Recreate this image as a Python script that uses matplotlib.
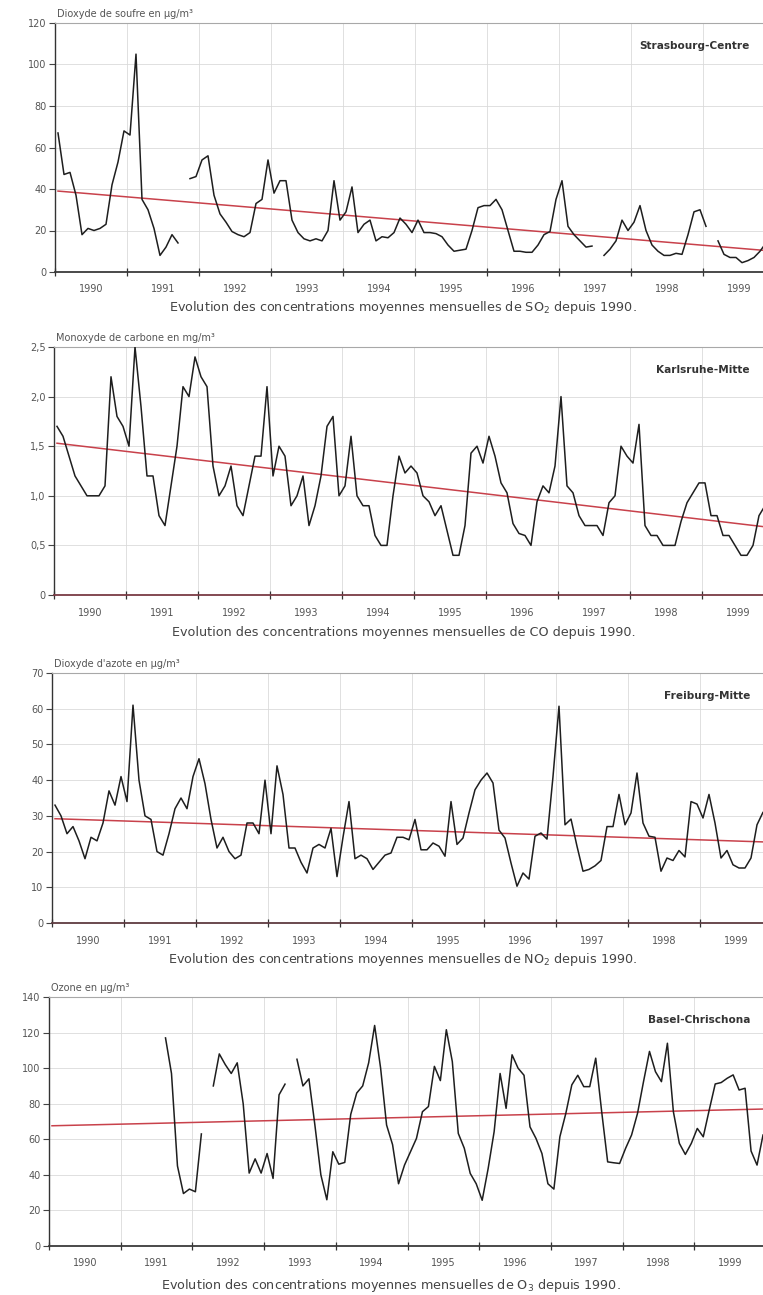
import numpy as np
import matplotlib.pyplot as plt

W, H = 763, 1295

years = [str(y) for y in range(1990, 2000)]
months = np.arange(120)

# monthly means, Jan 1990 .. Dec 1999 (None = no measurement)
so2 = [67, 47, 48, 37, 18, 21, 20, 21, 23, 42,
       53, 68, 66, 105, 35, 30, 21, 8, 12, 18,
       14, None, 45, 46, 54, 56, 37, 28, 24, 19.5,
       18, 17, 19, 33, 35, 54, 38, 44, 44, 25,
       19, 16, 15, 16, 15, 20, 44, 25, 29, 41,
       19, 23, 25, 15, 17, 16.5, 19, 26, 23, 19,
       25, 19, 19, 18.5, 17, 13, 10, 10.5, 11, 20,
       31, 32, 32, 35, 30, 20, 10, 10, 9.5, 9.5,
       13, 18, 19.5, 35, 44, 22, 18, 15, 12, 12.5,
       None, 8, 11, 15, 25, 20, 24, 32, 20, 13,
       10, 8, 8, 9, 8.5, 18, 29, 30, 22, None,
       15, 8.5, 7, 7, 4.5, 5.5, 7, 10, 14, 16]

co = [1.7, 1.6, 1.4, 1.2, 1.1, 1.0, 1.0, 1.0, 1.1, 2.2,
      1.8, 1.7, 1.5, 2.5, 1.9, 1.2, 1.2, 0.8, 0.7, 1.1,
      1.5, 2.1, 2.0, 2.4, 2.2, 2.1, 1.3, 1.0, 1.1, 1.3,
      0.9, 0.8, 1.1, 1.4, 1.4, 2.1, 1.2, 1.5, 1.4, 0.9,
      1.0, 1.2, 0.7, 0.9, 1.2, 1.7, 1.8, 1.0, 1.1, 1.6,
      1.0, 0.9, 0.9, 0.6, 0.5, 0.5, 1.0, 1.4, 1.23, 1.3,
      1.23, 1.0, 0.94, 0.8, 0.9, 0.65, 0.4, 0.4, 0.7, 1.43,
      1.5, 1.33, 1.6, 1.4, 1.13, 1.03, 0.72, 0.62, 0.6, 0.5,
      0.94, 1.1, 1.03, 1.3, 2.0, 1.1, 1.03, 0.8, 0.7, 0.7,
      0.7, 0.6, 0.93, 1.0, 1.5, 1.4, 1.33, 1.72, 0.7, 0.6,
      0.6, 0.5, 0.5, 0.5, 0.74, 0.93, 1.03, 1.13, 1.13, 0.8,
      0.8, 0.6, 0.6, 0.5, 0.4, 0.4, 0.5, 0.8, 0.9, 0.95]

no2 = [33, 30, 25, 27, 23, 18, 24, 23, 28, 37,
       33, 41, 34, 61, 40, 30, 29, 20, 19, 25,
       32, 35, 32, 41, 46, 39, 29, 21, 24, 20,
       18, 19, 28, 28, 25, 40, 25, 44, 36, 21,
       21, 17, 14, 21, 22, 21, 26.5, 13, 24, 34,
       18, 19, 18, 15, 17, 19, 19.6, 24, 24, 23.3,
       29, 20.5, 20.5, 22.4, 21.5, 18.7, 34, 22, 23.8, 30.8,
       37.3, 40, 42, 39.2, 26, 23.8, 16.8, 10.3, 14, 12.3,
       24.3, 25.2, 23.5, 41, 60.7, 27.5, 29.1, 21.5, 14.5, 15,
       16, 17.5, 27, 27, 36, 27.5, 30.8, 42, 28, 24.3,
       24, 14.5, 18.2, 17.5, 20.3, 18.5, 34, 33.3, 29.4, 36,
       28, 18.2, 20.3, 16.3, 15.4, 15.4, 18.2, 27.5, 31, 32]

o3 = [None] * 19 + [
       117, 97, 45, 29.5, 32, 30.5, 63, None, 90, 108,
       102, 97, 103, 80, 41, 49, 41, 52, 38, 85,
       91, None, 105, 90, 94, 68, 40, 26, 53, 46,
       47, 74, 86, 90, 103, 124, 100, 68, 57, 35,
       45.5, 53, 60.5, 75.5, 78.4, 101, 93, 121.6, 103.7, 63.3,
       55, 40.8, 35, 25.7, 43.6, 64.3, 97, 77.4, 107.5, 100,
       96, 67, 60.5, 52, 35, 32, 61.4, 74.6, 90.6, 96,
       89.6, 89.6, 105.6, 75.5, 47.3, 46.8, 46.4, 54.9, 62.4, 74.6,
       92.4, 109.4, 98, 92.4, 114, 75.5, 57.7, 51.5, 57.7, 66.1,
       61.4, 76.5, 91.1, 91.9, 94.3, 96.2, 87.7, 88.7, 53.4, 45.5,
       62.4]

# linear trend, value at first and last month
so2_trend = [39.0, 10.1]
co_trend = [1.53, 0.68]
no2_trend = [29.2, 22.65]
o3_trend = [67.6, 77.0]

so2_ticks = [0, 20, 40, 60, 80, 100, 120]
co_ticks = [0, 0.5, 1.0, 1.5, 2.0, 2.5]
co_ticklabels = ['0', '0,5', '1,0', '1,5', '2,0', '2,5']
no2_ticks = [0, 10, 20, 30, 40, 50, 60, 70]
o3_ticks = [0, 20, 40, 60, 80, 100, 120, 140]

stations = ['Strasbourg-Centre', 'Karlsruhe-Mitte', 'Freiburg-Mitte', 'Basel-Chrischona']
units = ['Dioxyde de soufre en µg/m³', 'Monoxyde de carbone en mg/m³',
         "Dioxyde d'azote en µg/m³", 'Ozone en µg/m³']
captions = [
    'Evolution des concentrations moyennes mensuelles de SO$_2$ depuis 1990.',
    'Evolution des concentrations moyennes mensuelles de CO depuis 1990.',
    'Evolution des concentrations moyennes mensuelles de NO$_2$ depuis 1990.',
    'Evolution des concentrations moyennes mensuelles de O$_3$ depuis 1990.',
]

# panel frames in pixels: left, top, bottom, width
FRAMES = [(55, 23, 272, 720), (54, 347, 595, 720), (52, 673, 923, 720), (49, 997, 1246, 717)]
CAPTION_Y = [308, 633, 959, 1285]
CAPTION_X = [403, 404, 403, 391]
BOTTOM_COLORS = ['#3a3a3a', '#7a3a44', '#5e3a40', '#3a3a3a']


def fx(px):
    return px / W


def fy(py):
    return 1 - py / H


def draw_panel(fig, i, values, trend, ticks, ticklabels=None):
    left, top, bottom, width = FRAMES[i]
    ax = fig.add_axes([fx(left), fy(bottom), width / W, (bottom - top) / H])
    vals = np.array(values, dtype=float)

    ax.plot(months, vals, color='#1e1e1e', lw=1.1, zorder=3)
    ax.plot([months[0], months[-1]], trend, color='#c8414b', lw=1.1, zorder=2)

    ax.set_xlim(-0.5, 119.5)
    ax.set_ylim(ticks[0], ticks[-1])
    ax.set_yticks(ticks)
    if ticklabels:
        ax.set_yticklabels(ticklabels)

    ax.set_xticks(np.arange(-0.5, 120, 12))
    ax.set_xticklabels([])
    ax.set_xticks(np.arange(5.5, 120, 12), minor=True)
    ax.set_xticklabels(years, minor=True)

    ax.grid(True, which='major', color='#dadada', lw=0.6)
    ax.set_axisbelow(True)

    ax.spines['right'].set_visible(False)
    ax.spines['top'].set_color('#a8a8a8')
    ax.spines['top'].set_linewidth(0.8)
    ax.spines['left'].set_color('#333333')
    ax.spines['left'].set_linewidth(1.0)
    ax.spines['bottom'].set_color(BOTTOM_COLORS[i])
    ax.spines['bottom'].set_linewidth(1.3)

    ax.tick_params(axis='y', direction='out', length=4, width=0.8, color='#444444',
                   labelcolor='#555555', labelsize=7, pad=2)
    ax.tick_params(axis='x', which='major', direction='inout', length=6, width=0.9,
                   color='#333333')
    ax.tick_params(axis='x', which='minor', length=0, pad=9, labelsize=7,
                   labelcolor='#555555')

    fig.text(fx(left + 2), fy(top - 9), units[i], fontsize=7, color='#555555',
             ha='left', va='center')
    fig.text(fx(750), fy(top + 23), stations[i], fontsize=7.6, fontweight='bold',
             color='#333333', ha='right', va='center')
    fig.text(fx(CAPTION_X[i]), fy(CAPTION_Y[i]), captions[i], fontsize=9.2,
             color='#444444', ha='center', va='center')
    return ax


def main():
    fig = plt.figure(figsize=(W / 100, H / 100), dpi=100)
    fig.patch.set_facecolor('white')
    draw_panel(fig, 0, so2, so2_trend, so2_ticks)
    draw_panel(fig, 1, co, co_trend, co_ticks, co_ticklabels)
    draw_panel(fig, 2, no2, no2_trend, no2_ticks)
    draw_panel(fig, 3, o3, o3_trend, o3_ticks)
    fig.savefig('out.png', dpi=100)


if __name__ == "__main__":
    main()
